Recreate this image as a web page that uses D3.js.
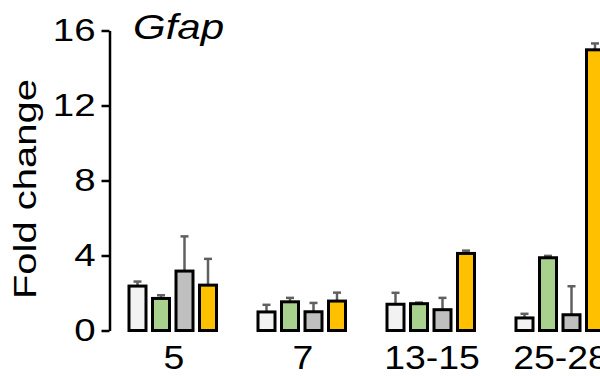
<!DOCTYPE html>
<html>
<head>
<meta charset="utf-8">
<script src="https://cdn.jsdelivr.net/npm/d3@7"></script>
<style>
  html, body { margin: 0; padding: 0; background: #fff; }
  svg { display: block; }
  text { font-family: "Liberation Sans", Arial, sans-serif; fill: #000; }
</style>
</head>
<body>
<div id="chart"></div>
<script>
// data
const categories = ["5", "7", "13-15", "25-28"];
const seriesNames = ["s1", "s2", "s3", "s4"];
const colors = ["#f2f2f2", "#a9d18e", "#bfbfbf", "#ffc000"];
// mean fold change per series, one value per category
const meanS1 = [2.37, 0.99, 1.40, 0.67];
const meanS2 = [1.71, 1.53, 1.43, 3.88];
const meanS3 = [3.17, 1.00, 1.11, 0.84];
const meanS4 = [2.42, 1.57, 4.11, 14.97];
// upper error bar (added on top of the mean)
const errS1 = [0.24, 0.38, 0.61, 0.22];
const errS2 = [0.17, 0.21, 0.06, 0.10];
const errS3 = [1.85, 0.47, 0.63, 1.52];
const errS4 = [1.40, 0.45, 0.15, 0.34];
const yTicks = [0, 4, 8, 12, 16];

const means = [meanS1, meanS2, meanS3, meanS4];
const errs = [errS1, errS2, errS3, errS4];

// flat list for the bars
let rows = [];
categories.forEach(function(c, i) {
  seriesNames.forEach(function(s, j) {
    rows.push({cat: c, ser: s, idx: j, v: means[j][i], e: errs[j][i]});
  });
});

const width = 600, height = 376;
const axisX = 109.5;

const svg = d3.select("#chart").append("svg")
  .attr("width", width)
  .attr("height", height);

const y = d3.scaleLinear().domain([0, 16]).range([330.5, 30.5]);
const x0 = d3.scaleBand().domain(categories).range([axisX, axisX + 4 * 129]).padding(0);
const x1 = d3.scaleBand().domain(seriesNames).range([18, 108.5]).paddingInner(0.149).paddingOuter(0);

// stretch text along its direction (the picture's font runs wide)
function stretch(sel, k) {
  sel.each(function() {
    const w = this.getComputedTextLength();
    d3.select(this).attr("textLength", w * k).attr("lengthAdjust", "spacingAndGlyphs");
  });
}

// error bars (under the bars so the black outline covers the stem foot)
const eb = svg.append("g").attr("class", "errors");
eb.selectAll("line.stem").data(rows).enter().append("line")
  .attr("class", "stem")
  .attr("x1", d => x0(d.cat) + x1(d.ser) + x1.bandwidth() / 2)
  .attr("x2", d => x0(d.cat) + x1(d.ser) + x1.bandwidth() / 2)
  .attr("y1", d => y(d.v))
  .attr("y2", d => y(d.v + d.e))
  .attr("stroke", "#606060")
  .attr("stroke-width", 2.5);
eb.selectAll("line.cap").data(rows).enter().append("line")
  .attr("class", "cap")
  .attr("x1", d => x0(d.cat) + x1(d.ser) + x1.bandwidth() / 2 - 4)
  .attr("x2", d => x0(d.cat) + x1(d.ser) + x1.bandwidth() / 2 + 4)
  .attr("y1", d => y(d.v + d.e))
  .attr("y2", d => y(d.v + d.e))
  .attr("stroke", "#606060")
  .attr("stroke-width", 2.5);

// bars
svg.append("g").attr("class", "bars")
  .selectAll("rect").data(rows).enter().append("rect")
  .attr("x", d => x0(d.cat) + x1(d.ser) + 1.5)
  .attr("width", x1.bandwidth() - 3)
  .attr("y", d => y(d.v))
  .attr("height", d => y(0) - y(d.v))
  .attr("fill", d => colors[d.idx])
  .attr("stroke", "#000")
  .attr("stroke-width", 3);

// y axis
const yAxis = d3.axisLeft(y).tickValues(yTicks).tickSize(8).tickSizeOuter(0).tickPadding(6);
const gy = svg.append("g")
  .attr("transform", `translate(${axisX},0)`)
  .call(yAxis);
gy.select(".domain").attr("stroke", "#000").attr("stroke-width", 2.5);
gy.selectAll(".tick line").attr("stroke", "#000").attr("stroke-width", 2.5);
gy.selectAll(".tick text")
  .attr("font-size", 32)
  .style("font-family", '"Liberation Sans", Arial, sans-serif')
  .attr("fill", "#000")
  .call(stretch, 1.2);

// category labels
svg.append("g").selectAll("text").data(categories).enter().append("text")
  .attr("x", d => x0(d) + x0.bandwidth() / 2)
  .attr("y", 369)
  .attr("text-anchor", "middle")
  .attr("font-size", 34)
  .text(d => d)
  .call(stretch, 1.1);

// y label
svg.append("text")
  .attr("transform", "translate(35.5,189) rotate(-90)")
  .attr("text-anchor", "middle")
  .attr("font-size", 32)
  .text("Fold change")
  .call(stretch, 1.25);

// title
svg.append("text")
  .attr("x", 133)
  .attr("y", 38.5)
  .attr("font-size", 35)
  .attr("font-style", "italic")
  .text("Gfap")
  .call(stretch, 1.2);
</script>
</body>
</html>
